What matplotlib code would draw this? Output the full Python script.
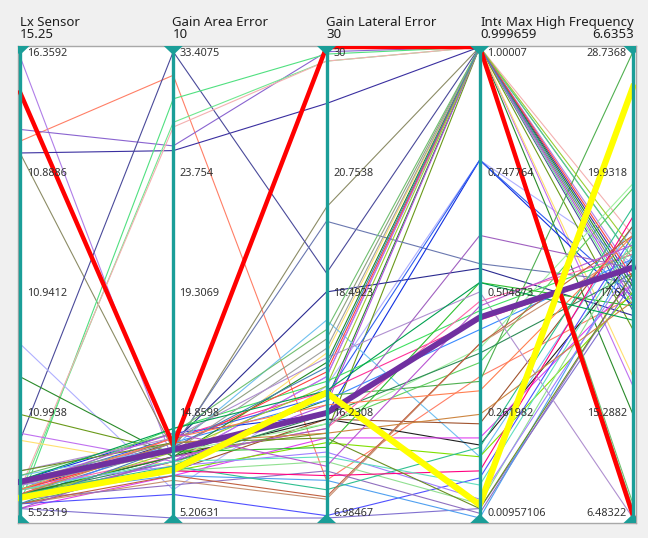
import matplotlib
matplotlib.use("Agg")
import matplotlib.pyplot as plt
from matplotlib.patches import Polygon
from matplotlib.transforms import Bbox, TransformedBbox

plt.rcParams['font.family'] = ['Noto Sans', 'DejaVu Sans']

W, H = 648, 538

# Dimensions of the parallel-coordinates view
dim_titles = ["Lx Sensor", "Gain Area Error", "Gain Lateral Error", "Inte", "Max High Frequency"]
dim_current = ["15.25", "10", "30", "0.999659", "6.6353"]

# Axis labels, top to bottom
ticks_lx = ["16.3592", "10.8886", "10.9412", "10.9938", "5.52319"]
ticks_area = ["33.4075", "23.754", "19.3069", "14.8598", "5.20631"]
ticks_lateral = ["30", "20.7538", "18.4923", "16.2308", "6.98467"]
ticks_integrity = ["1.00007", "0.747764", "0.504873", "0.261982", "0.00957106"]
ticks_maxhf = ["28.7368", "19.9318", "17.61", "15.2882", "6.48322"]

# Position of each record along each axis (0 = bottom of range, 1 = top)
lx_sensor = [.80, .98, .825, .775, .775, .165, .03, .05, .06, .37,
             .30, .22, .18, .165, .05, .06, .08, .07, .06, .05,
             .04, .09, .04, .03, .06, .05, .02, .04, .03, .07,
             .05, .06, .08, .02, .03, .04, .05, .06, .07, .05,
             .06, .04, .08, .07, .09, .10, .05, .04, .06, .03,
             .02, .10, .04, .03, .06, .05, .08, .07]
gain_area = [.94, .12, .79, .78, .145, .99, .89, .84, .83, .06,
             .13, .14, .12, .11, .15, .16, .18, .17, .19, .17,
             .16, .15, .12, .11, .10, .13, .09, .10, .08, .14,
             .12, .13, .14, .00, .05, .07, .09, .10, .11, .13,
             .15, .12, .16, .14, .18, .17, .11, .10, .12, .09,
             .13, .16, .14, .15, .17, .16, .19, .18]
gain_lateral = [.08, .30, .99, .88, .66, .52, .985, .97, .97, .28,
                .25, .18, .30, .35, .63, .48, .22, .26, .29, .27,
                .25, .42, .20, .26, .21, .21, .17, .16, .04, .20,
                .22, .19, .15, .00, .005, .10, .08, .12, .14, .33,
                .31, .24, .38, .36, .40, .34, .06, .09, .13, .045,
                .19, .17, .28, .32, .24, .18, .27, .11]
integrity = [.30, 1, 1, 1, 1, 1, 1, 1, 1, .76,
             1, 1, 1, 1, .54, .53, .76, .76, .44, .42,
             .40, .13, .33, .29, .20, .155, .17, .13, .37, .36,
             .35, .46, .50, .02, .085, .01, .00, .03, .04, 1,
             1, 1, 1, 1, 1, .48, .15, .10, .07, .37,
             .60, .02, 1, 1, .27, .22, .50, .45]
max_high_freq = [.47, .52, .55, .50, .47, .44, .55, .45, .60, .54,
                 .22, .40, .28, .30, .50, .43, .45, .47, .56, .53,
                 .55, .62, .70, .99, .62, .55, .50, .48, .57, .71,
                 .52, .56, .45, .50, .60, .52, .56, .58, .54, .49,
                 .51, .46, .02, .01, .03, .00, .66, .64, .59, .60,
                 .53, .52, .57, .48, .60, .46, .42, .58]
line_colors = ["#ff7f66", "#b07ee8", "#8a64d0", "#3a2fa0", "#8c8c66", "#4a4a9a", "#50e080", "#70e890", "#f4b0b0", "#b0b0ff",
               "#2a8a2a", "#6a9a1a", "#c070f0", "#ffe070", "#6a78b0", "#2a2a90", "#1030e0", "#3060f0", "#40e060", "#ff3399",
               "#3a8aff", "#70c0f0", "#60d060", "#50b050", "#a0522d", "#202020", "#e040f0", "#80e000", "#c89070", "#a0f0a0",
               "#2e8b57", "#ff66aa", "#30c030", "#8070d0", "#5050ff", "#9070c0", "#50a0f0", "#90e090", "#a080ff", "#228b22",
               "#ff4040", "#b050e0", "#90a080", "#a0a0a0", "#70c070", "#b090d0", "#30c090", "#ff0080", "#60e0c0", "#c06040",
               "#a060c0", "#6b8e23", "#9acd32", "#4682b4", "#ff7f50", "#cd853f", "#00a050", "#ba55d3"]

# Highlighted records
red_rec = [.904, .155, 1.0, 1.0, .005]
purple_rec = [.077, .145, .223, .426, .532]
yellow_rec = [.043, .102, .266, .028, .915]

# Layout in pixels
axis_px = [20, 172.5, 326.5, 480.5, 633]
frame_l, frame_r, frame_t, frame_b = 18, 636, 46, 523
y_top_px, y_bot_px = 47, 518
teal = "#1a9e98"

fig = plt.figure(figsize=(W / 100, H / 100), dpi=100, facecolor="#f0f0f0")
ax = fig.add_axes([frame_l / W, 1 - frame_b / H, (frame_r - frame_l) / W, (frame_b - frame_t) / H])
ax.set_facecolor("white")

spacing = (axis_px[-1] - axis_px[0]) / 4
unit = y_bot_px - y_top_px
ax.set_xlim(-(axis_px[0] - frame_l) / spacing, 4 + (frame_r - axis_px[-1]) / spacing)
ax.set_ylim(-(frame_b - y_bot_px) / unit, 1 + (y_top_px - frame_t) / unit)
ax.set_xticks([])
ax.set_yticks([])
for s in ax.spines.values():
    s.set_color("#a8a8a8")
    s.set_linewidth(1.0)

xs = [0, 1, 2, 3, 4]
for i, c in enumerate(line_colors):
    ys = [lx_sensor[i], gain_area[i], gain_lateral[i], integrity[i], max_high_freq[i]]
    ax.plot(xs, ys, color=c, lw=0.8, zorder=2, solid_joinstyle="miter")

ax.plot(xs, red_rec, color="#ff0000", lw=3.2, zorder=4)
ax.plot(xs, purple_rec, color="#7030a0", lw=4.2, zorder=5)
ax.plot(xs, yellow_rec, color="#ffff00", lw=4.5, zorder=6)

# Axis bars with range handles
y0, y1 = ax.get_ylim()
hw = 9.5 / spacing
th = 9.0 / unit
for x in xs:
    ax.plot([x, x], [y0, y1], color=teal, lw=2.4, zorder=10, solid_capstyle="butt")
    ax.add_patch(Polygon([[x - hw, y1], [x + hw, y1], [x, y1 - th]], closed=True,
                         facecolor=teal, edgecolor="none", zorder=11))
    ax.add_patch(Polygon([[x - hw, y0], [x + hw, y0], [x, y0 + th]], closed=True,
                         facecolor=teal, edgecolor="none", zorder=11))


def fx(px):
    return px / W


def fy(py):
    return 1 - py / H


# Header titles and current values
hdr = dict(fontsize=9.5, color="#1e1e1e")
for k in range(3):
    fig.text(fx(axis_px[k]), fy(26), dim_titles[k], ha="left", va="baseline", **hdr)
    fig.text(fx(axis_px[k]), fy(38.5), dim_current[k], ha="left", va="baseline", **hdr)
# The fourth title is cut off where the fifth one begins
t4 = fig.text(fx(axis_px[3]), fy(26), dim_titles[3], ha="left", va="baseline", **hdr)
t4.set_clip_box(TransformedBbox(Bbox([[0, 0], [501 / W, 1]]), fig.transFigure))
t4.set_clip_on(True)
fig.text(fx(axis_px[3]), fy(38.5), dim_current[3], ha="left", va="baseline", **hdr)
fig.text(fx(634), fy(26), dim_titles[4], ha="right", va="baseline", **hdr)
fig.text(fx(634), fy(38.5), dim_current[4], ha="right", va="baseline", **hdr)

# Axis value labels
label_rows = [54, 173, 293, 413, 514]
lab = dict(fontsize=7.8, color="#333333", va="center", zorder=12)
all_ticks = [ticks_lx, ticks_area, ticks_lateral, ticks_integrity]
for k, tk in enumerate(all_ticks):
    for lbl, py in zip(tk, label_rows):
        fig.text(fx(axis_px[k] + 7), fy(py), lbl, ha="left", **lab)
for lbl, py in zip(ticks_maxhf, label_rows):
    fig.text(fx(627), fy(py), lbl, ha="right", **lab)

fig.savefig("out.png", dpi=100, facecolor=fig.get_facecolor())
